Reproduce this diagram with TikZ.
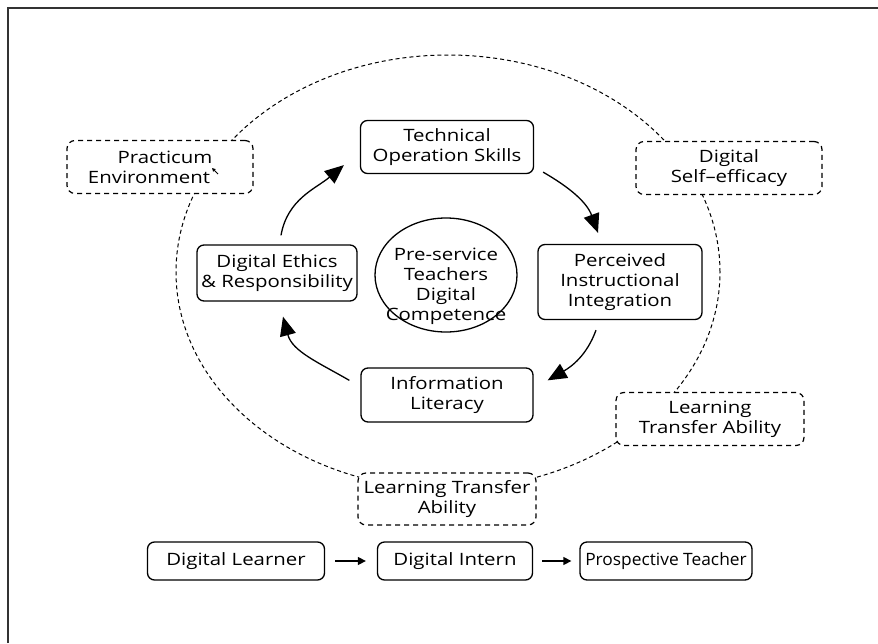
\documentclass[tikz,border=0pt]{standalone}
\usepackage{fontspec}
\setmainfont{Open Sans}[FakeStretch=1.2]
\newfontfamily\condfont[FakeStretch=1.02]{Open Sans}
\usetikzlibrary{shapes.geometric,arrows.meta}
\begin{document}
\begin{tikzpicture}[x=1pt,y=1pt,
 every node/.style={font=\fontsize{17}{20}\selectfont, align=center, inner sep=0pt},
 solidbox/.style={draw, rounded corners=7pt, line width=1.3pt, fill=white},
 dashbox/.style={draw, dashed, dash pattern=on 5pt off 4pt, rounded corners=8pt, line width=1.2pt, fill=white},
 cyc/.style={line width=1.3pt, -{Triangle[length=19pt,width=16pt]}},
 flow/.style={line width=1.3pt, -{Triangle[length=8pt,width=8pt]}},
 ring/.style={dashed, dash pattern=on 4pt off 3pt, line width=1pt}]
\useasboundingbox (0,0) rectangle (878,-643);
\draw[line width=1.8pt, draw=black!80] (8,-643) -- (8,-8) -- (878,-8);
% outer dashed ring
\draw[ring] (448,-272) ellipse [x radius=272, y radius=217];
% nodes
\node[solidbox, minimum width=173, minimum height=53] (tech) at (447,-147) {Technical\\Operation Skills};
\node[dashbox, minimum width=186, minimum height=53] (prac) at (160,-167) {\hspace*{10pt}Practicum\\Environment\hspace*{22pt}};
\node[dashbox, minimum width=186, minimum height=53] (self) at (729,-168) {Digital\\Self–efficacy};
\node[solidbox, minimum width=160, minimum height=56] (ethics) at (277,-273) {Digital Ethics\\\& Responsibility};
\node[solidbox, minimum width=164, minimum height=75] (perc) at (620,-282) {Perceived\\Instructional\\Integration};
\node[solidbox, minimum width=172, minimum height=54] (info) at (447,-395) {Information\\Literacy};
\node[dashbox, minimum width=188, minimum height=53] (ltr) at (710,-419) {Learning\\Transfer Ability};
\node[dashbox, minimum width=178, minimum height=52] (ltb) at (447,-499) {Learning Transfer\\Ability};
\node[draw, ellipse, line width=1.3pt, minimum width=142, minimum height=114] (core) at (446,-275) {};
\node (coretext) at (446,-286) {Pre-service\\Teachers\\Digital\\Competence};
% cursor mark
\draw[line width=0.9pt, {Triangle[length=3.5pt,width=3.5pt]}-] (212,-168) -- (218,-174);
% cycle arrows
\draw[cyc] ([xshift=4pt,yshift=9pt]ethics.north) to[out=80,in=220] ([xshift=-16pt,yshift=9pt]tech.south west);
\draw[cyc] ([xshift=9pt,yshift=2pt]tech.south east) to[out=-30,in=110] ([xshift=-22pt,yshift=11pt]perc.north);
\draw[cyc] ([xshift=-24pt,yshift=-10pt]perc.south) to[out=-110,in=30] ([xshift=14pt,yshift=-13pt]info.north east);
\draw[cyc] ([xshift=-11pt,yshift=-13pt]info.north west) to[out=150,in=-75] ([xshift=6pt,yshift=-15pt]ethics.south);
% bottom row
\node[solidbox, minimum width=177, minimum height=38] (learner) at (236,-561) {Digital Learner};
\node[solidbox, minimum width=155, minimum height=38] (intern) at (455,-561) {Digital Intern};
\node[solidbox, minimum width=172, minimum height=38] (prosp) at (666,-561) {\condfont Prospective Teacher};
\draw[flow, shorten <=10pt, shorten >=11pt] (learner) -- (intern);
\draw[flow, shorten <=9pt, shorten >=8pt] (intern) -- (prosp);
\end{tikzpicture}
\end{document}
